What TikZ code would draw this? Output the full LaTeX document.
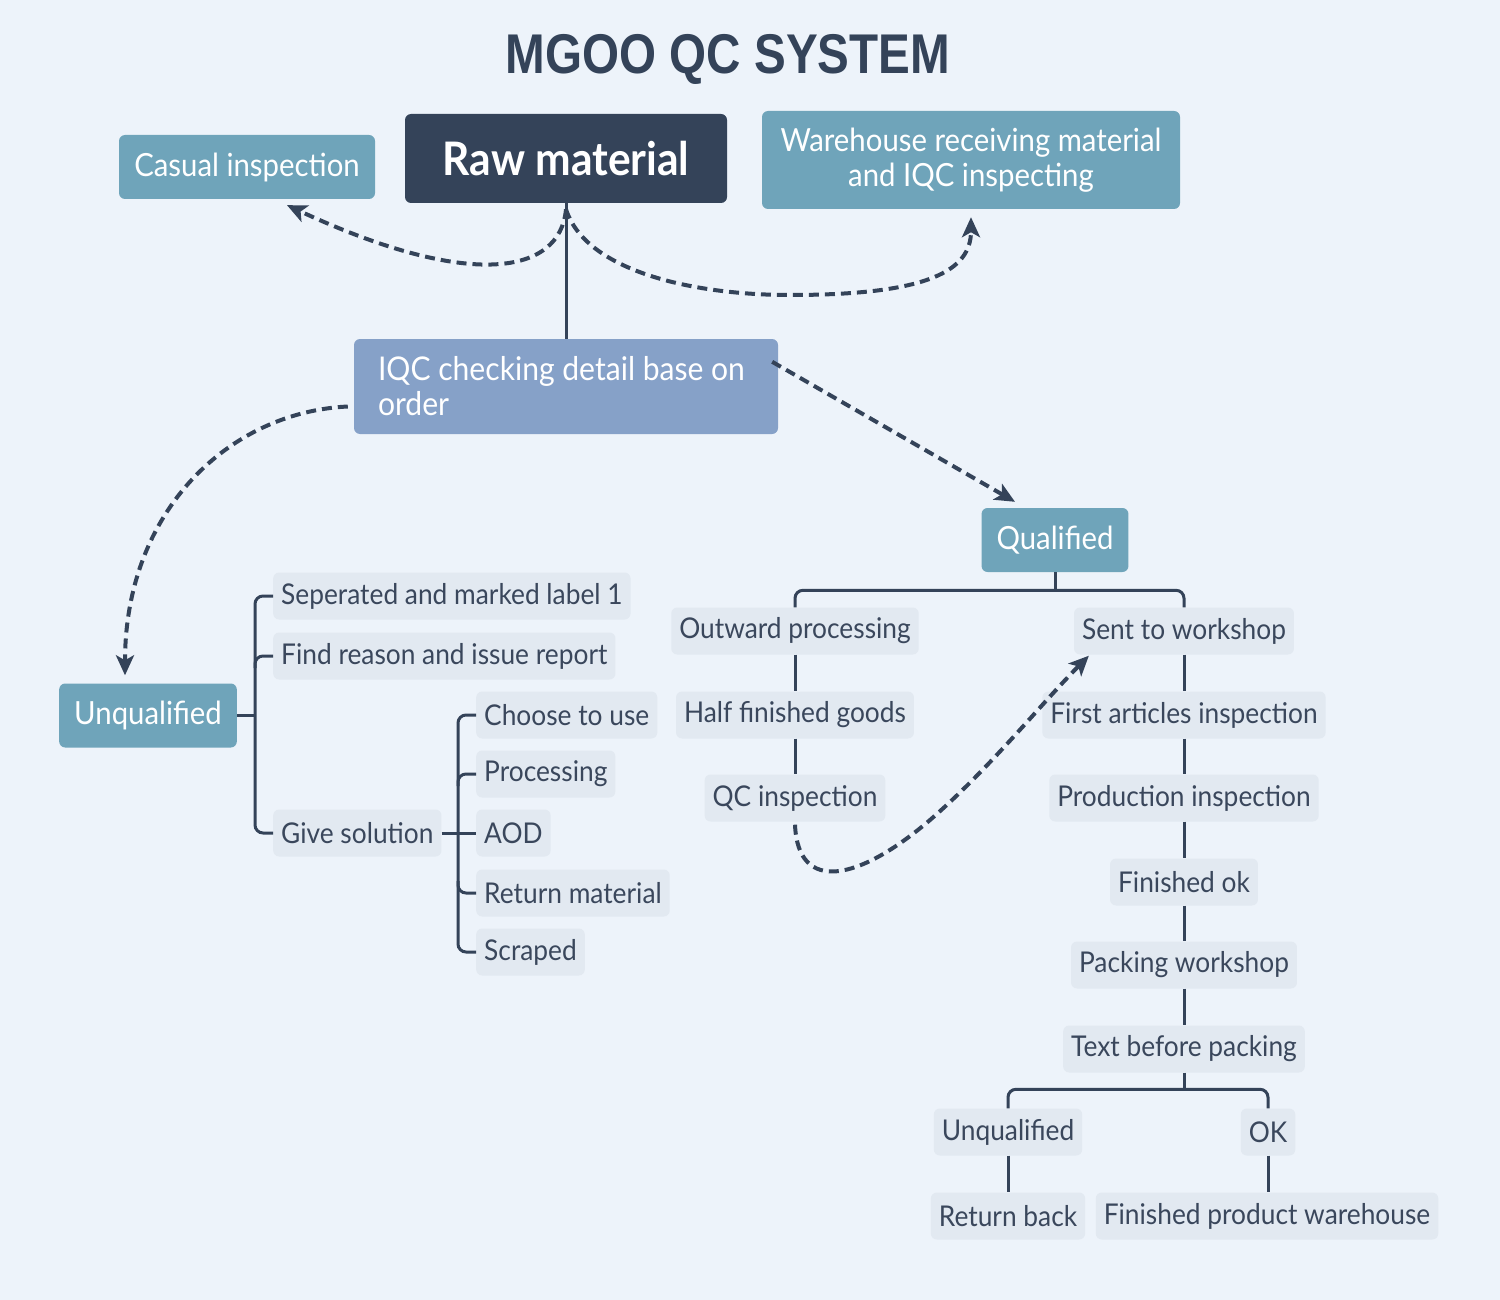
\documentclass[tikz,border=0pt]{standalone}
\usepackage{fontspec}
\setmainfont{Lato}[FakeStretch=0.92]
\newfontfamily\titlefont{Liberation Sans}[FakeStretch=0.85]
\usetikzlibrary{arrows.meta,calc}
\definecolor{bgc}{HTML}{EDF3FA}
\definecolor{dark}{HTML}{344359}
\definecolor{teal}{HTML}{6FA4BA}
\definecolor{peri}{HTML}{86A1C8}
\definecolor{lightbox}{HTML}{E2E9F1}
\definecolor{graytext}{HTML}{3A475C}
\tikzset{
  tealbox/.style={fill=teal, text=white, rounded corners=6pt, inner xsep=15pt, inner ysep=0pt,
    minimum height=64pt, font=\fontsize{31.9}{36}\selectfont},
  graybox/.style={fill=lightbox, text=graytext, rounded corners=6pt, inner xsep=8pt, inner ysep=0pt,
    minimum height=47pt, font=\fontsize{28.6}{34}\selectfont},
  treeline/.style={draw=dark, line width=3pt},
  rc/.style={rounded corners=8pt},
  dashconn/.style={draw=dark, line width=4pt, dash pattern=on 10pt off 6pt,
    -{Stealth[length=20pt,width=18pt,inset=5pt]}},
}
\begin{document}
\begin{tikzpicture}[x=1pt,y=-1pt]
\fill[bgc] (0,0) rectangle (1500,1300);
\useasboundingbox (0,0) rectangle (1500,1300);

\node[text=dark, font=\titlefont\bfseries\fontsize{56}{60}\selectfont] (title) at (728,59) {MGOO QC SYSTEM};

% top row
\node[tealbox, minimum width=256pt] (casual) at (247,167) {Casual inspection};
\node[fill=dark, text=white, rounded corners=6pt, minimum width=322pt, minimum height=89pt,
  font=\bfseries\fontsize{46.2}{50}\selectfont] (raw) at (566,158.5) {Raw material};
\node[tealbox, minimum width=418pt, minimum height=98pt, align=center,
  font=\fontsize{31.9}{35}\selectfont] (ware) at (971,160) {Warehouse receiving material\\and IQC inspecting};
\node[fill=peri, text=white, rounded corners=6pt, minimum width=424pt, minimum height=95pt,
  text width=376pt, align=flush left, inner xsep=24pt, font=\fontsize{32.7}{35}\selectfont] (iqc) at (566,386.5)
  {IQC checking detail base on\\order};

\node[tealbox] (qual) at (1055,540) {Qualified};
\node[tealbox] (unq) at (148,715.5) {Unqualified};

% left tree
\node[graybox, anchor=west] (sep) at (273,596) {Seperated and marked label 1};
\node[graybox, anchor=west] (find) at (273,656) {Find reason and issue report};
\node[graybox, anchor=west] (give) at (273,833) {Give solution};
\node[graybox, anchor=west] (choose) at (476,715) {Choose to use};
\node[graybox, anchor=west] (proc) at (476,774) {Processing};
\node[graybox, anchor=west] (aod) at (476,833) {AOD};
\node[graybox, anchor=west] (ret) at (476,893) {Return material};
\node[graybox, anchor=west] (scr) at (476,952) {Scraped};

% right tree
\node[graybox] (outw) at (795,631) {Outward processing};
\node[graybox] (half) at (795,715) {Half finished goods};
\node[graybox] (qc) at (795,798) {QC inspection};
\node[graybox] (sent) at (1184,631) {Sent to workshop};
\node[graybox] (first) at (1184,715) {First articles inspection};
\node[graybox] (prod) at (1184,798) {Production inspection};
\node[graybox] (fin) at (1184,882) {Finished ok};
\node[graybox] (pack) at (1184,965) {Packing workshop};
\node[graybox] (tbp) at (1184,1049) {Text before packing};
\node[graybox] (unq2) at (1008,1132) {Unqualified};
\node[graybox] (ok) at (1268,1132) {OK};
\node[graybox] (retb) at (1008,1216) {Return back};
\node[graybox] (fpw) at (1267,1216) {Finished product warehouse};

% solid connectors
\draw[treeline] (raw.south) -- (iqc.north);
\draw[treeline] (unq.east) -- ++(19,0);
\draw[treeline, rc] (sep.west) -- ++(-18,0) |- (give.west);
\draw[treeline, rc] (find.west) -- ++(-18,0) -- ++(0,12);
\draw[treeline] (give.east) -- (aod.west);
\draw[treeline, rc] (choose.west) -- ++(-18,0) |- (scr.west);
\draw[treeline, rc] (proc.west) -- ++(-18,0) -- ++(0,12);
\draw[treeline, rc] (ret.west) -- ++(-18,0) -- ++(0,-12);

\draw[treeline] (qual.south) -- ++(0,18);
\draw[treeline, rc] (outw.north) -- ++(0,-17) -| (sent.north);
\draw[treeline] (outw.south) -- (half.north);
\draw[treeline] (half.south) -- (qc.north);
\draw[treeline] (sent.south) -- (first.north);
\draw[treeline] (first.south) -- (prod.north);
\draw[treeline] (prod.south) -- (fin.north);
\draw[treeline] (fin.south) -- (pack.north);
\draw[treeline] (pack.south) -- (tbp.north);
\draw[treeline] (tbp.south) -- ++(0,18);
\draw[treeline, rc] (unq2.north) -- ++(0,-19) -| (ok.north);
\draw[treeline] (unq2.south) -- (retb.north);
\draw[treeline] (ok.south) -- (ok.south |- fpw.north);

% dashed connectors
\coordinate (rs) at ([yshift=-6pt]raw.south);
\coordinate (cain) at ([xshift=40pt,yshift=-6pt]casual.south);
\coordinate (wain) at ([yshift=-8pt]ware.south);
\draw[dashconn] (rs) .. controls (560,275) and (470,290) .. (cain);
\draw[dashconn] (rs) .. controls (585,270) and (690,295) .. (790,295)
  .. controls (930,295) and (971,270) .. (wain);
\coordinate (iqcne) at ([xshift=-6pt,yshift=-23pt]iqc.north east);
\coordinate (qualin) at ([xshift=-40pt,yshift=6pt]qual.north);
\draw[dashconn] (iqcne) -- (qualin);
\coordinate (iqcw) at ([xshift=-6pt,yshift=-20pt]iqc.west);
\coordinate (unqin) at ([xshift=-23pt,yshift=8pt]unq.north);
\draw[dashconn] (iqcw) .. controls (230,412) and (125,510) .. (unqin);
\coordinate (qcs) at ([yshift=-3pt]qc.south);
\coordinate (sentin) at ([xshift=15pt,yshift=-1pt]sent.south west);
\draw[dashconn] (qcs) .. controls (798,895) and (860,880) .. (930,820)
  .. controls (990,768) and (1040,705) .. (sentin);
\end{tikzpicture}
\end{document}
